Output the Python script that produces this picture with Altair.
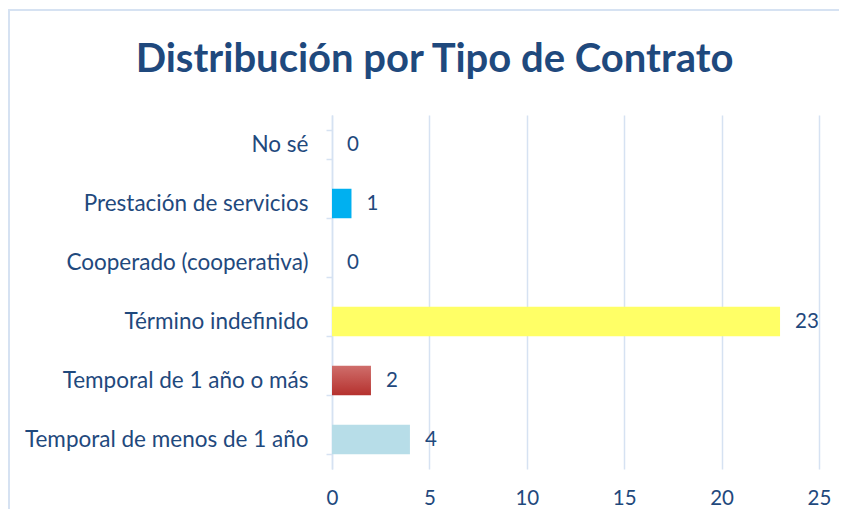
import altair as alt
import pandas as pd

categories = [
    "No sé",
    "Prestación de servicios",
    "Cooperado (cooperativa)",
    "Término indefinido",
    "Temporal de 1 año o más",
    "Temporal de menos de 1 año",
]
values = [0, 1, 0, 23, 2, 4]
bar_colors = ["#00b0f0", "#00b0f0", "#00b0f0", "#ffff66", "#c0504d", "#b7dde8"]
x_ticks = [0, 5, 10, 15, 20, 25]

df = pd.DataFrame({"cat": categories, "val": values, "col": bar_colors})

TEXT = "#1f497d"
GRID = "#d6e2f2"
FONT = "Lato"

red_gradient = {
    "gradient": "linear",
    "x1": 0, "y1": 0, "x2": 0, "y2": 1,
    "stops": [
        {"offset": 0, "color": "#cf6e6b"},
        {"offset": 1, "color": "#b5312e"},
    ],
}

y_enc = alt.Y(
    "cat:N",
    sort=categories,
    title=None,
    scale=alt.Scale(paddingInner=0.5, paddingOuter=0.25),
    axis=alt.Axis(
        tickBand="extent",
        domainColor=GRID,
        domainWidth=1.5,
        tickColor=GRID,
        tickWidth=1.5,
        tickSize=6,
        labelPadding=18,
        labelFontSize=22.5,
        labelColor=TEXT,
        labelFont=FONT,
        labelLimit=400,
        grid=False,
    ),
)
x_enc = alt.X(
    "val:Q",
    title=None,
    scale=alt.Scale(domain=[0, 25], nice=False),
    axis=alt.Axis(
        values=x_ticks,
        grid=True,
        gridColor=GRID,
        gridWidth=1.5,
        domain=False,
        ticks=False,
        labelFlush=False,
        labelPadding=19,
        labelFontSize=20.5,
        labelColor=TEXT,
        labelFont=FONT,
    ),
)

bars = alt.Chart(df).mark_bar().encode(
    y=y_enc,
    x=x_enc,
    fill=alt.condition(
        alt.datum.cat == "Temporal de 1 año o más",
        alt.value(red_gradient),
        alt.Fill("col:N", scale=None),
    ),
)

labels = alt.Chart(df).mark_text(
    align="left", baseline="middle", dx=15, fontSize=20.5, color=TEXT, font=FONT
).encode(
    y=alt.Y("cat:N", sort=categories),
    x="val:Q",
    text="val:Q",
)

frame = alt.Chart(df).mark_rect(
    fill=None, stroke="#d6e2f2", strokeWidth=1.5
).encode(
    x=alt.value(-323), x2=alt.value(560), y=alt.value(-105), y2=alt.value(460)
)

chart = alt.layer(frame, bars, labels).properties(
    width=487,
    height=354,
    autosize=alt.AutoSizeParams(type="none"),
    padding={"left": 324, "top": 107, "right": 20, "bottom": 40},
    title=alt.TitleParams(
        "Distribución por Tipo de Contrato",
        fontSize=40,
        font=FONT,
        fontWeight="bold",
        color=TEXT,
        anchor="middle",
        frame="group",
        baseline="alphabetic",
        offset=-103,
        dx=-141,
    ),
).configure_view(stroke=None)

chart.save("out.html", embed_options={"renderer": "svg", "actions": False})
